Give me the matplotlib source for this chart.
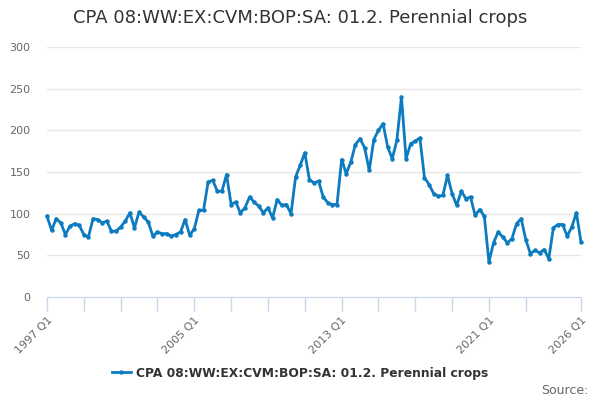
import matplotlib
matplotlib.use("Agg")
import matplotlib.pyplot as plt
from matplotlib.lines import Line2D

title = "CPA 08:WW:EX:CVM:BOP:SA: 01.2. Perennial crops"

# quarterly values, 1997 Q1 .. 2026 Q1
values = [
    97, 80, 94, 89,     # 1997
    75, 85, 88, 86,     # 1998
    75, 72, 94, 93,     # 1999
    89, 91, 79, 79,     # 2000
    84, 91, 101, 83,    # 2001
    102, 96, 90, 73,    # 2002
    78, 76, 76, 73,     # 2003
    75, 78, 93, 74,     # 2004
    82, 104, 104, 138,  # 2005
    140, 127, 127, 147, # 2006
    111, 114, 101, 107, # 2007
    120, 114, 109, 101, # 2008
    107, 95, 117, 110,  # 2009
    111, 100, 144, 158, # 2010
    173, 141, 137, 139, # 2011
    120, 113, 111, 111, # 2012
    165, 148, 162, 183, # 2013
    190, 179, 152, 189, # 2014
    200, 208, 180, 166, # 2015
    188, 240, 166, 184, # 2016
    187, 191, 143, 135, # 2017
    124, 121, 122, 146, # 2018
    124, 110, 127, 118, # 2019
    120, 98, 105, 97,   # 2020
    42, 65, 78, 72,     # 2021
    65, 70, 88, 94,     # 2022
    69, 52, 56, 53,     # 2023
    57, 46, 83, 87,     # 2024
    87, 73, 84, 101,    # 2025
    66,                 # 2026
]
quarters = [f"{1997 + i // 4} Q{i % 4 + 1}" for i in range(len(values))]
label_quarters = ["1997 Q1", "2005 Q1", "2013 Q1", "2021 Q1", "2026 Q1"]
minor_quarters = [f"{y} Q1" for y in range(1997, 2024, 2)]

line_color = "#0c7bc0"
axis_color = "#ccd6eb"

fig = plt.figure(figsize=(6, 4), dpi=100)
ax = fig.add_axes([47 / 600, 1 - 297 / 400, 534 / 600, 250 / 400])

x = list(range(len(values)))
ax.plot(x, values, color=line_color, lw=2, marker="o", ms=2.2, clip_on=False, zorder=3)

ax.set_xlim(0, len(values) - 1)
ax.set_ylim(0, 300)
ax.set_yticks(range(0, 301, 50))
ax.grid(axis="y", color="#e6e6e6", lw=1)
ax.set_axisbelow(True)

major_pos = [quarters.index(q) for q in label_quarters]
minor_pos = [quarters.index(q) for q in minor_quarters if q not in label_quarters]
ax.set_xticks(major_pos)
ax.set_xticklabels(label_quarters, rotation=45, ha="right", rotation_mode="anchor")
ax.set_xticks(minor_pos, minor=True)
ax.tick_params(axis="x", which="both", length=10, color=axis_color, width=1,
               labelsize=8, labelcolor="#666666", pad=3)
ax.tick_params(axis="y", length=0, labelsize=8, labelcolor="#666666", pad=12)

for s in ["top", "right", "left"]:
    ax.spines[s].set_visible(False)
ax.spines["bottom"].set_color(axis_color)

fig.text(0.5, 1 - 18 / 400, title, ha="center", va="center", fontsize=13, color="#333333")

handle = Line2D([], [], color=line_color, lw=2, marker="o", ms=2.2)
fig.legend([handle], [title], loc="center", bbox_to_anchor=(0.5, 1 - 373 / 400),
           frameon=False, prop={"weight": "bold", "size": 8.8}, labelcolor="#333333",
           handlelength=1.6, handletextpad=0.4)

fig.text(589 / 600, 1 - 390 / 400, "Source:", ha="right", va="center", fontsize=9, color="#666666")

fig.savefig("out.png", dpi=100)
